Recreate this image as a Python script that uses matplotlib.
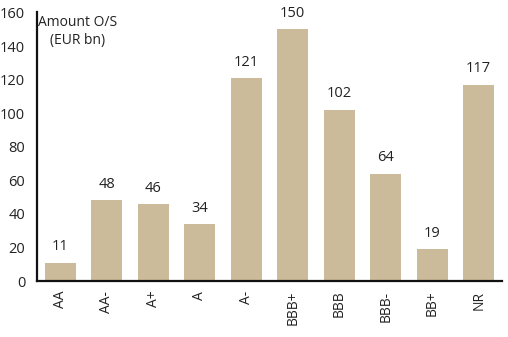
import matplotlib
matplotlib.use("Agg")
import matplotlib.pyplot as plt

ratings = ["AA", "AA-", "A+", "A", "A-", "BBB+", "BBB", "BBB-", "BB+", "NR"]
amounts = [11, 48, 46, 34, 121, 150, 102, 64, 19, 117]
yticks = [0, 20, 40, 60, 80, 100, 120, 140, 160]

plt.rcParams["font.family"] = ["Open Sans", "DejaVu Sans"]

fig = plt.figure(figsize=(5.08, 3.37), dpi=100)
ax = fig.add_axes([0.073, 0.166, 0.915, 0.797])

x = range(len(ratings))
bars = ax.bar(x, amounts, width=0.67, color="#CCBB9A")
for xi, v in zip(x, amounts):
    ax.annotate(str(v), (xi, v), xytext=(0, 6), textcoords="offset points",
                ha="center", va="bottom", fontsize=10.5, color="#222222")

ax.set_xlim(-0.5, len(ratings) - 0.5)
ax.set_ylim(0, 160)
ax.set_yticks(yticks)
ax.set_yticklabels([str(t) for t in yticks], fontsize=10.5)
ax.set_xticks(list(x))
ax.set_xticklabels(ratings, rotation=90, fontsize=10)
ax.tick_params(axis="y", length=0, pad=8.5, colors="#222222")
ax.tick_params(axis="x", length=0, pad=7, colors="#222222")

for s in ("top", "right"):
    ax.spines[s].set_visible(False)
for s in ("left", "bottom"):
    ax.spines[s].set_linewidth(1.6)
    ax.spines[s].set_color("#111111")

ax.text(0.003, 0.99, "Amount O/S\n(EUR bn)", transform=ax.transAxes,
        ha="left", va="top", multialignment="center",
        fontsize=10, color="#222222", linespacing=1.3)

fig.savefig("out.png", dpi=100)
